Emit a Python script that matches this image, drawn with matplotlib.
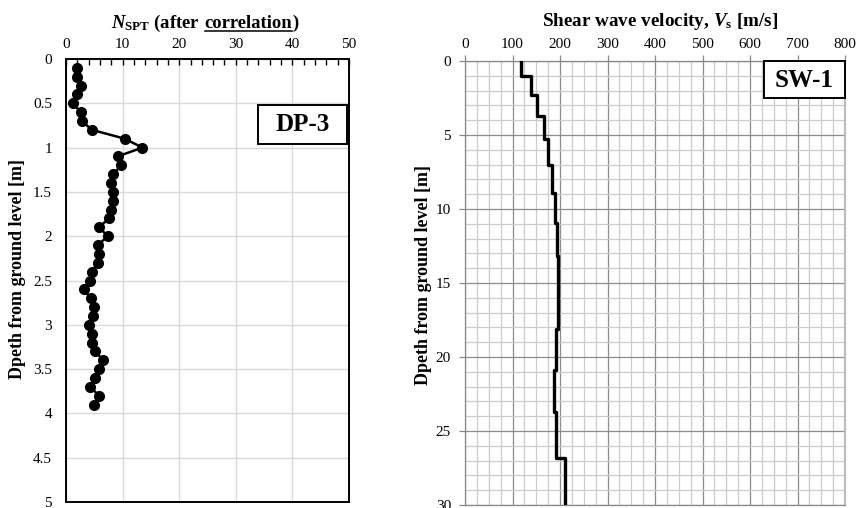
import matplotlib
matplotlib.use('Agg')
import matplotlib.pyplot as plt
from matplotlib.ticker import MultipleLocator, FuncFormatter
from matplotlib.transforms import IdentityTransform
from matplotlib.patches import Rectangle
from matplotlib.lines import Line2D

plt.rcParams['font.family'] = ['Liberation Serif', 'DejaVu Serif']
plt.rcParams['mathtext.fontset'] = 'custom'
plt.rcParams['mathtext.rm'] = 'Liberation Serif:bold'
plt.rcParams['mathtext.it'] = 'Liberation Serif:bold:italic'
plt.rcParams['mathtext.bf'] = 'Liberation Serif:bold'

# ---------------- data ----------------
depth_spt = [0.1, 0.2, 0.3, 0.4, 0.5, 0.6, 0.7, 0.8, 0.9, 1.0,
             1.1, 1.2, 1.3, 1.4, 1.5, 1.6, 1.7, 1.8, 1.9, 2.0,
             2.1, 2.2, 2.3, 2.4, 2.5, 2.6, 2.7, 2.8, 2.9, 3.0,
             3.1, 3.2, 3.3, 3.4, 3.5, 3.6, 3.7, 3.8, 3.9]
n_spt = [2.0, 2.0, 2.6, 2.0, 1.2, 2.6, 2.8, 4.6, 10.4, 13.5,
         9.1, 9.8, 8.3, 7.9, 8.3, 8.3, 7.9, 7.6, 5.8, 7.4,
         5.6, 5.9, 5.6, 4.6, 4.3, 3.1, 4.4, 5.0, 4.7, 4.0,
         4.6, 4.6, 5.2, 6.5, 5.8, 5.2, 4.3, 5.8, 4.9]

layer_top = [0.0, 1.0, 2.3, 3.7, 5.25, 7.0, 8.9, 10.95, 13.2, 15.6, 18.1, 20.85, 23.7, 26.8]
layer_bottom = [1.0, 2.3, 3.7, 5.25, 7.0, 8.9, 10.95, 13.2, 15.6, 18.1, 20.85, 23.7, 26.8, 30.0]
vs = [118, 139, 151, 166, 174, 184, 189, 193, 196, 195, 192, 187, 192, 210]

left_title_parts = [r'$N_{\mathrm{SPT}}$ (after', 'correlation', ')']
right_title = r'Shear wave velocity, $V_{\mathrm{s}}$ [m/s]'
ylabel = 'Dpeth from ground level [m]'
label_left_box = 'DP-3'
label_right_box = 'SW-1'

W, H = 856, 508
fig = plt.figure(figsize=(W / 100, H / 100), dpi=100)

def px_axes(x0, y0, x1, y1):
    return [x0 / W, 1 - y1 / H, (x1 - x0) / W, (y1 - y0) / H]

TICK_FS = 11

# ---------------- left chart ----------------
ax1 = fig.add_axes(px_axes(66, 59, 349, 502))
ax1.set_xlim(0, 50)
ax1.set_ylim(5, 0)
ax1.set_axisbelow(True)
ax1.plot(n_spt, depth_spt, color='black', lw=1.8, marker='o', ms=7.0, zorder=3)
ax1.xaxis.tick_top()
ax1.xaxis.set_major_locator(MultipleLocator(10))
ax1.xaxis.set_minor_locator(MultipleLocator(2))
ax1.yaxis.set_major_locator(MultipleLocator(0.5))
ax1.yaxis.set_major_formatter(FuncFormatter(lambda v, p: '%g' % v))
ax1.tick_params(axis='x', which='both', direction='in', length=4, width=1,
                top=True, bottom=False, labeltop=True, labelbottom=False,
                pad=6, labelsize=TICK_FS, color='black')
ax1.tick_params(axis='y', which='both', length=0, pad=10, labelsize=TICK_FS)
ax1.grid(True, which='major', color='#d9d9d9', lw=1)
for s in ax1.spines.values():
    s.set_color('black')
    s.set_linewidth(1.4)

# box DP-3
ax1.add_patch(Rectangle((0.678, 0.808), 0.315, 0.088, transform=ax1.transAxes,
                        facecolor='white', edgecolor='black', lw=1.4, zorder=5))
ax1.text(0.8355, 0.852, label_left_box, transform=ax1.transAxes, ha='center',
         va='center', fontsize=18, fontweight='bold', zorder=6)

# ---------------- right chart ----------------
ax2 = fig.add_axes(px_axes(465, 61, 845, 505))
ax2.set_xlim(0, 800)
ax2.set_ylim(30, 0)
ax2.set_axisbelow(True)
xs, ys = [], []
for t, b, v in zip(layer_top, layer_bottom, vs):
    xs += [v, v]
    ys += [t, b]
ax2.plot(xs, ys, color='black', lw=2.4, zorder=3)
ax2.xaxis.tick_top()
ax2.xaxis.set_major_locator(MultipleLocator(100))
ax2.xaxis.set_minor_locator(MultipleLocator(25))
ax2.yaxis.set_major_locator(MultipleLocator(5))
ax2.yaxis.set_minor_locator(MultipleLocator(1))
ax2.tick_params(axis='x', which='major', direction='out', length=4, width=0.9,
                color='#888888', pad=3, labelsize=TICK_FS, top=True, bottom=False,
                labeltop=True, labelbottom=False)
ax2.tick_params(axis='y', which='major', direction='out', length=4, width=0.9,
                color='#888888', pad=6, labelsize=TICK_FS)
ax2.tick_params(which='minor', length=0)
ax2.grid(True, which='major', color='#8c8c8c', lw=0.9)
ax2.grid(True, which='minor', color='#cccccc', lw=0.9)
for s in ax2.spines.values():
    s.set_color('#888888')
    s.set_linewidth(0.9)
ax2.spines['right'].set_color('#bdbdbd')
ax2.spines['right'].set_linewidth(1.6)

ax2.add_patch(Rectangle((0.787, 0.917), 0.213, 0.083, transform=ax2.transAxes,
                        facecolor='white', edgecolor='black', lw=1.4, zorder=5,
                        clip_on=False))
ax2.text(0.8935, 0.957, label_right_box, transform=ax2.transAxes, ha='center',
         va='center', fontsize=18, fontweight='bold', zorder=6)

# ---------------- titles / labels ----------------
fig.text(18 / W, 1 - 269 / H, ylabel, rotation=90, ha='center', va='center',
         fontsize=13, fontweight='bold')
fig.text(423 / W, 1 - 275 / H, ylabel, rotation=90, ha='center', va='center',
         fontsize=13, fontweight='bold')

fig.text(660 / W, 1 - 22 / H, right_title, ha='center', va='center',
         fontsize=13.8, fontweight='bold')

# left title in pieces (to underline "correlation")
ident = IdentityTransform()
base_y = H - 28
fs = 13.4
gap = 0.25 * fs * 100 / 72
texts = []
for ptxt in left_title_parts:
    texts.append(fig.text(0, base_y, ptxt, transform=ident, ha='left',
                          va='baseline', fontsize=fs, fontweight='bold'))
fig.canvas.draw()
r = fig.canvas.get_renderer()
widths = [t.get_window_extent(r).width for t in texts]
total = widths[0] + gap + widths[1] + widths[2]
x0 = 205 - total / 2
xpos = [x0, x0 + widths[0] + gap, x0 + widths[0] + gap + widths[1]]
for t, xp in zip(texts, xpos):
    t.set_position((xp, base_y))
ul_y = base_y - 2.5
fig.add_artist(Line2D([xpos[1], xpos[1] + widths[1]], [ul_y, ul_y],
                      transform=ident, color='black', lw=1.1))

fig.savefig('out.png', dpi=100)
